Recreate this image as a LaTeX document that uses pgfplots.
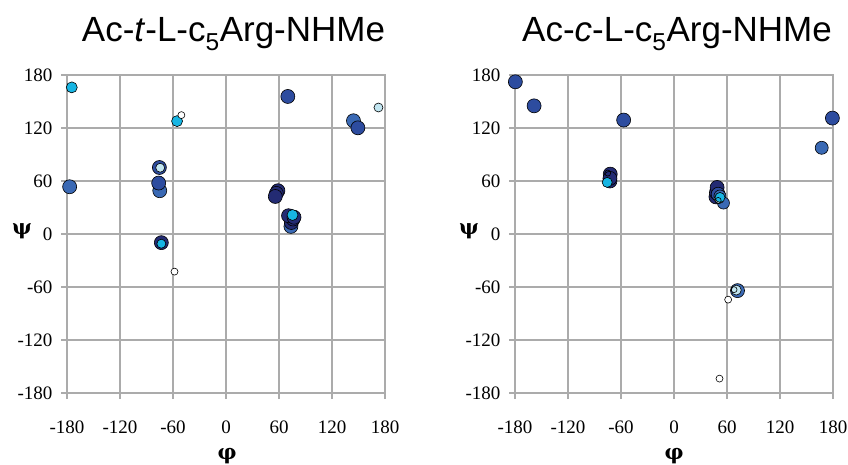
\documentclass[border=0pt]{standalone}
\usepackage{fontspec}
\setmainfont{Liberation Serif}
\newfontfamily\arialf{Liberation Sans}
\newfontfamily\greekf{DejaVu Serif}
\usepackage{pgfplots}
\pgfplotsset{compat=1.18}
\definecolor{cnavy}{HTML}{232B73}
\definecolor{cblue}{HTML}{2D4C9F}
\definecolor{csteel}{HTML}{3A69B4}
\definecolor{ccyan}{HTML}{17B5E3}
\definecolor{clight}{HTML}{C2E6F1}
\definecolor{cgrid}{HTML}{ABABAB}
\pgfplotsset{
  pts/.style 2 args={only marks, mark=*, mark size=#2, mark options={solid, fill=#1, draw=black, line width=0.6pt}},
  rama/.style={
    scale only axis, width=318pt, height=318pt,
    xmin=-180, xmax=180, ymin=-180, ymax=180,
    xtick={-180,-120,-60,0,60,120,180},
    ytick={-180,-120,-60,0,60,120,180},
    xticklabels={-180,-120,-60,0,60,120,180},
    yticklabels={-180,-120,-60,0,60,120,180},
    xtick pos=bottom, ytick pos=left,
    tick align=outside, major tick length=6pt,
    tick style={draw=cgrid, line width=1.8pt},
    grid=major, major grid style={draw=cgrid, line width=1.8pt},
    axis line style={draw=cgrid, line width=1.8pt},
    tick label style={font=\fontsize{19}{19}\selectfont},
    xticklabel style={yshift=-18pt},
    yticklabel style={xshift=-5pt},
    clip=false,
  },
}
\begin{document}
\begin{tikzpicture}
\path[use as bounding box] (0,0) rectangle (848pt,464pt);
% ---------- left panel ----------
\begin{axis}[rama, at={(67pt,71pt)}, anchor=south west]
\addplot[pts={csteel}{7pt}] coordinates {(-177,53.5) (144.3,128.2) (-75,49) (73.5,8.6)};
\addplot[pts={cblue}{7pt}] coordinates {(70,155.7) (149.3,120.2) (-76.2,57.7) (-75.4,75.3)};
\addplot[pts={cnavy}{7pt}] coordinates {(-73.2,-9.8) (58.8,49) (57,46) (55.8,42.5) (74,13) (76,17) (70.8,20.7) (77,19)};
\addplot[pts={ccyan}{5.5pt}] coordinates {(-174.6,166) (-55.4,127.8) (75.3,21.5)};
\addplot[pts={ccyan}{4.5pt}] coordinates {(-73.2,-11)};
\addplot[pts={clight}{4.5pt}] coordinates {(172.6,143.2) (-74.5,75)};
\addplot[pts={white}{3.5pt}] coordinates {(-50.5,134.6) (-58.3,-42.6)};
\end{axis}
\node[font=\greekf\bfseries\fontsize{21}{21}\selectfont] at (22pt,233pt) {ψ};
\node[font=\greekf\bfseries\fontsize{21}{21}\selectfont] at (227pt,8pt) {φ};
\node[font=\arialf\fontsize{35}{35}\selectfont] at (233.5pt,430pt) {Ac-\textit{t}-L-c\textsubscript{5}Arg-NHMe};
% ---------- right panel ----------
\begin{axis}[rama, at={(515pt,71pt)}, anchor=south west]
\addplot[pts={cblue}{7pt}] coordinates {(-179.6,172.3) (-158.4,145.1) (-57,129) (179.3,131.2)};
\addplot[pts={csteel}{6.5pt}] coordinates {(167.2,97.6)};
\addplot[pts={cnavy}{7pt}] coordinates {(-72.5,60) (-72.2,67.8) (-72.5,63) (47.5,42) (48,47) (48.8,52.7)};
\addplot[pts={cblue}{7pt}] coordinates {(50,45)};
\addplot[pts={csteel}{6pt}] coordinates {(52,43) (56,35)};
\addplot[pts={csteel}{7pt}] coordinates {(71.9,-64.1)};
\addplot[pts={clight}{5pt}] coordinates {(51,40) (70.5,-63.5)};
\addplot[pts={ccyan}{5pt}] coordinates {(-75.6,58.4) (52.1,41.4)};
\addplot[only marks, mark=o, mark size=3pt, mark options={solid, draw=black, line width=0.6pt}] coordinates {(-75,69) (50,38) (68,-63)};
\addplot[pts={white}{3.5pt}] coordinates {(61.3,-74.3) (51.5,-163.7)};
\end{axis}
\node[font=\greekf\bfseries\fontsize{21}{21}\selectfont] at (469pt,233pt) {ψ};
\node[font=\greekf\bfseries\fontsize{21}{21}\selectfont] at (674pt,8pt) {φ};
\node[font=\arialf\fontsize{35}{35}\selectfont] at (677pt,430pt) {Ac-\textit{c}-L-c\textsubscript{5}Arg-NHMe};
\end{tikzpicture}
\end{document}
